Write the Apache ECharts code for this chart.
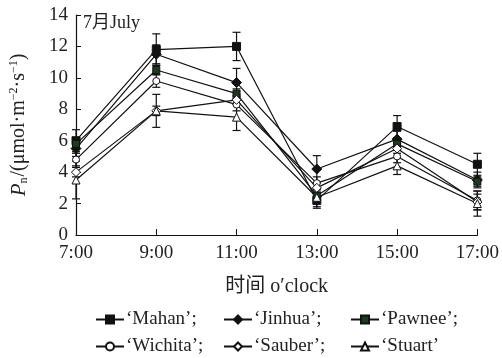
<!DOCTYPE html>
<html><head><meta charset="utf-8">
<script src="https://cdn.jsdelivr.net/npm/echarts@6/dist/echarts.min.js"></script>
<style>html,body{margin:0;padding:0;background:#fff}#c{width:502px;height:358px}</style>
</head><body><div id="c"></div>
<script>
const hours = ['7:00','9:00','11:00','13:00','15:00','17:00'];
const yTicks = [0,2,4,6,8,10,12,14];
const names = ['‘Mahan’;','‘Jinhua’;','‘Pawnee’;','‘Wichita’;','‘Sauber’;','‘Stuart’'];
const mahan   = [6.0, 11.8, 12.0, 2.2, 6.9, 4.5];
const jinhua  = [5.5, 11.5, 9.7, 4.2, 6.1, 3.5];
const pawnee  = [5.8, 10.5, 9.0, 2.5, 5.8, 3.4];
const wichita = [4.8, 9.8, 8.3, 3.3, 5.0, 2.2];
const sauber  = [4.0, 7.9, 8.6, 3.0, 5.5, 2.1];
const stuart  = [3.5, 7.9, 7.5, 2.4, 4.4, 2.0];
const mahanErr   = [0.7, 1.0, 0.9, 0.5, 0.7, 0.7];
const jinhuaErr  = [0.5, 0.6, 0.9, 0.85, 0.5, 0.5];
const pawneeErr  = [0.3, 0.3, 0.3, 0.3, 0.3, 0.3];
const wichitaErr = [0.4, 0.4, 0.4, 0.4, 0.4, 0.6];
const sauberErr  = [0.3, 0.3, 0.3, 0.3, 0.3, 0.5];
const stuartErr  = [1.2, 1.05, 0.85, 0.6, 0.55, 0.8];

const serif = '"Liberation Serif","Times New Roman","Noto Sans CJK SC",serif';
const seriesDefs = [
  {v: mahan,   e: mahanErr,   sym: 'rect',     size: 8,  fill: '#111'},
  {v: jinhua,  e: jinhuaErr,  sym: 'diamond',  size: 10, fill: '#111'},
  {v: pawnee,  e: pawneeErr,  sym: 'rect',     size: 7,  fill: '#1d3a1d'},
  {v: wichita, e: wichitaErr, sym: 'circle',   size: 7,  fill: '#fff'},
  {v: sauber,  e: sauberErr,  sym: 'diamond',  size: 9,  fill: '#fff'},
  {v: stuart,  e: stuartErr,  sym: 'triangle', size: 8,  fill: '#fff'}
];

const series = [];
seriesDefs.forEach((d, i) => {
  series.push({
    type: 'custom', name: names[i] + '_err', silent: true, z: 1,
    data: d.v.map((v, k) => [k, v - d.e[k], v + d.e[k]]),
    renderItem: function (params, api) {
      const x = api.value(0);
      const lo = api.coord([x, api.value(1)]);
      const hi = api.coord([x, api.value(2)]);
      const w = 4;
      return {type: 'group', children: [
        {type: 'line', shape: {x1: lo[0], y1: lo[1], x2: hi[0], y2: hi[1]}, style: {stroke: '#111', lineWidth: 1.2}},
        {type: 'line', shape: {x1: lo[0]-w, y1: lo[1], x2: lo[0]+w, y2: lo[1]}, style: {stroke: '#111', lineWidth: 1.2}},
        {type: 'line', shape: {x1: hi[0]-w, y1: hi[1], x2: hi[0]+w, y2: hi[1]}, style: {stroke: '#111', lineWidth: 1.2}}
      ]};
    }
  });
});
seriesDefs.forEach((d, i) => {
  series.push({
    type: 'line', name: names[i], data: d.v, z: 3,
    symbol: d.sym, symbolSize: d.size, showAllSymbol: true,
    lineStyle: {color: '#111', width: 1.2},
    itemStyle: {color: d.fill, borderColor: '#111', borderWidth: 1},
    emphasis: {disabled: true}, animation: false
  });
});

const legendPos = [[95,310],[223,310],[350,310],[95,337],[223,337],[350,337]];
const legends = names.map((n, i) => ({
  data: [n], left: legendPos[i][0], top: legendPos[i][1], padding: 0,
  itemWidth: 28, itemHeight: 10, selectedMode: false,
  textStyle: {fontFamily: serif, fontSize: 19, color: '#222', padding: [0,0,0,-3]}
}));

const chart = echarts.init(document.getElementById('c'), null, {renderer: 'canvas'});
chart.setOption({
  animation: false,
  backgroundColor: '#fff',
  grid: {left: 74, right: 24, top: 15, bottom: 123, containLabel: false},
  legend: legends,
  xAxis: {
    type: 'category', data: hours, boundaryGap: false,
    axisLine: {lineStyle: {color: '#111', width: 1.2}},
    axisTick: {inside: true, length: 6, alignWithLabel: true, lineStyle: {color: '#111'}},
    axisLabel: {fontFamily: serif, fontSize: 19, color: '#222', margin: 9},
    name: '时间 o′clock', nameLocation: 'middle', nameGap: 42,
    nameTextStyle: {fontFamily: serif, fontSize: 20, color: '#222'},
    splitLine: {show: false}
  },
  yAxis: {
    type: 'value', min: 0, max: 14, interval: 2,
    axisLine: {show: true, lineStyle: {color: '#111', width: 1.2}},
    axisTick: {show: true, inside: true, length: 5, lineStyle: {color: '#111'}},
    axisLabel: {fontFamily: serif, fontSize: 19, color: '#222', margin: 8},
    splitLine: {show: false},
    name: '{i|P}{sub|n}{t|/(μmol·m}{sup|−2}{t|·s}{sup|−1}{t|)}',
    nameLocation: 'middle', nameGap: 46, nameRotate: 90,
    nameTextStyle: {
      fontFamily: serif, fontSize: 20, color: '#222',
      rich: {
        i: {fontFamily: serif, fontSize: 21, fontStyle: 'italic', color: '#222'},
        sub: {fontFamily: serif, fontSize: 12, color: '#222', padding: [10,1,0,0]},
        t: {fontFamily: serif, fontSize: 20, color: '#222'},
        sup: {fontFamily: serif, fontSize: 12, color: '#222', padding: [0,0,10,0]}
      }
    }
  },
  graphic: [{
    type: 'text', left: 83, top: 14,
    style: {text: '7月July', font: '18px ' + serif, fill: '#222'}
  }],
  series: series
});
</script></body></html>
